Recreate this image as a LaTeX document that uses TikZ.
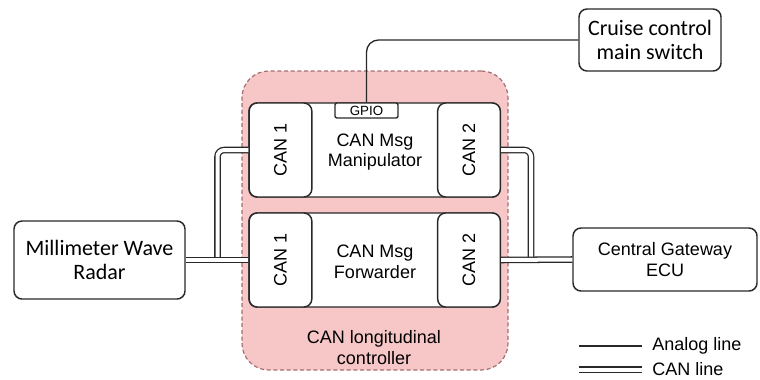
\documentclass[tikz,border=0pt]{standalone}
\usepackage{fontspec}
\setmainfont{Liberation Sans}
\newfontfamily\calib{Carlito}
\definecolor{pinkfill}{RGB}{247,198,198}
\definecolor{pinkedge}{RGB}{165,110,115}
\definecolor{ink}{RGB}{40,40,40}
\tikzset{
  box/.style={draw=ink, line width=1.1pt, rounded corners=6pt, fill=white, inner sep=0pt, align=center},
  outer/.style={box, font=\calib\fontsize{16.5}{18}\selectfont},
  arial/.style={font=\fontsize{13.5}{15.5}\selectfont},
  canline/.style={draw=ink, line width=0.95pt, double=white, double distance=3pt},
  analog/.style={draw=ink, line width=1pt},
  container/.style={draw=pinkedge, fill=pinkfill, line width=0.9pt, dash pattern=on 3pt off 2pt, rounded corners=20pt},
}
\begin{document}
\begin{tikzpicture}[x=0.75pt,y=-0.75pt]
\useasboundingbox (0,0) rectangle (760,379);
% container
\node[container, minimum width=199.5pt, minimum height=224.25pt] (ctr) at (375,220.5) {};
\node[arial, align=center] (ctrlabel) at (374,347.5) {CAN longitudinal\\controller};
% outer boxes
\node[outer, minimum width=128.25pt, minimum height=58.5pt] (radar) at (99.5,260) {Millimeter Wave\\Radar};
\node[outer, minimum width=106.5pt, minimum height=46.5pt] (cruise) at (650,40) {Cruise control\\main switch};
\node[box, arial, minimum width=138pt, minimum height=47.25pt] (gw) at (665,259.5) {Central Gateway\\ECU};
\coordinate (lj) at (217.5,260);
\coordinate (rj) at (531,260);
% inner boxes
\node[box, arial, minimum width=188.25pt, minimum height=70.5pt] (manip) at (374.5,150) {};
\node[box, arial, minimum width=188.25pt, minimum height=70.5pt] (fwd) at (374.5,260) {};
\node[box, arial, minimum width=47pt, minimum height=70.5pt] (m1) at (280.5,150) {\rotatebox{90}{CAN 1}};
\node[box, arial, minimum width=47pt, minimum height=70.5pt] (m2) at (469,150) {\rotatebox{90}{CAN 2}};
\node[box, arial, minimum width=47pt, minimum height=70.5pt] (f1) at (280.5,260) {\rotatebox{90}{CAN 1}};
\node[box, arial, minimum width=47pt, minimum height=70.5pt] (f2) at (469,260) {\rotatebox{90}{CAN 2}};
\node[arial, align=center] (mtxt) at (375,152) {CAN Msg\\Manipulator};
\node[arial, align=center] (ftxt) at (375,262) {CAN Msg\\Forwarder};
\node[draw=ink, line width=1pt, rounded corners=1.5pt, fill=white, minimum width=47.25pt, minimum height=11.25pt, inner sep=0pt, font=\fontsize{10}{11}\selectfont] (gpio) at (366.5,110.5) {GPIO};
% connectors
\draw[canline, rounded corners=5pt] (m1.west) -| (lj);
\draw[canline, rounded corners=5pt] (m2.east) -| (rj);
\draw[canline] (radar.east) -- (f1.west);
\draw[canline] (f2.east) -- (gw.west);
\draw[analog, rounded corners=9pt] (gpio.north) |- (cruise.west);
% legend
\coordinate (la1) at (579,346); \coordinate (la2) at (642,346);
\coordinate (lc1) at (579,369.5); \coordinate (lc2) at (642,369.5);
\draw[analog] (la1) -- (la2);
\draw[canline] (lc1) -- (lc2);
\node[arial, anchor=west, inner sep=0pt] (lat) at (652,345.5) {Analog line};
\node[arial, anchor=west, inner sep=0pt] (lct) at (652,369) {CAN line};
\end{tikzpicture}
\end{document}
